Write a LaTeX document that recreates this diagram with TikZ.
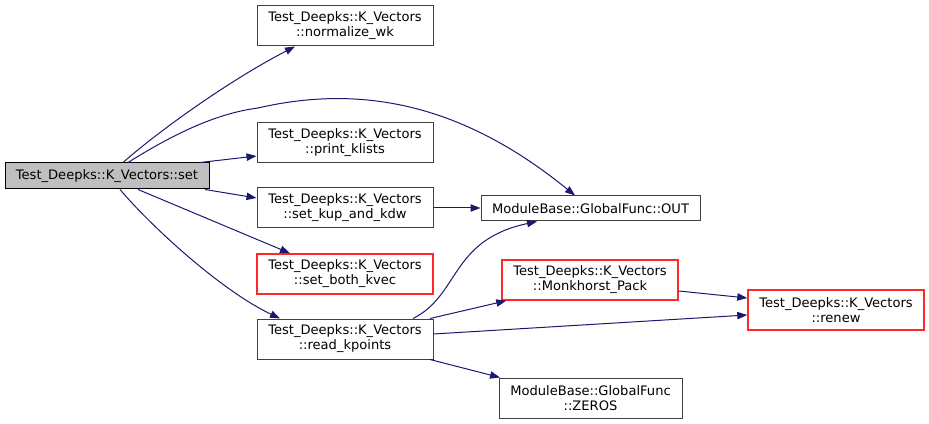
\documentclass[tikz,border=0pt]{standalone}
\usepackage{fontspec}
\setmainfont{DejaVu Sans}
\usepackage{tikz}
\usetikzlibrary{arrows.meta,calc}
\definecolor{edge_blue}{RGB}{25,25,112}
\definecolor{box_grey}{RGB}{64,64,64}
\definecolor{box_red}{RGB}{255,40,40}
\definecolor{cur_fill}{RGB}{191,191,191}
\tikzset{
  fn/.style={draw=box_grey, line width=0.75pt, fill=white, align=center, inner sep=0pt,
    minimum width=#1*0.75pt, minimum height=40*0.75pt},
  fn/.default=176,
  fnred/.style={fn=176, draw=box_red, line width=1.1pt},
  call/.style={edge_blue, line width=0.75pt, -{Triangle[length=7.5pt,width=5.5pt]}}
}

\begin{document}
\begin{tikzpicture}[x=0.75pt, y=-0.75pt, font=\fontsize{9.8}{11.3}\selectfont]
        \useasboundingbox (0,0) rectangle (929,424);
        \node[fn=204, minimum height=26*0.75pt, draw=black, fill=cur_fill] (set) at (107,176) {Test\_Deepks::K\_Vectors::set};
        \node[fn] (normwk) at (345,26) {Test\_Deepks::K\_Vectors\\::normalize\_wk};
        \node[fn] (printk) at (345,143) {Test\_Deepks::K\_Vectors\\::print\_klists};
        \node[fn] (kupkdw) at (345,208) {Test\_Deepks::K\_Vectors\\::set\_kup\_and\_kdw};
        \node[fnred] (bothkv) at (345,274) {Test\_Deepks::K\_Vectors\\::set\_both\_kvec};
        \node[fn] (readkp) at (345,339) {Test\_Deepks::K\_Vectors\\::read\_kpoints};
        \node[fn=219, minimum height=25*0.75pt] (gfout) at (590.5,208.5) {ModuleBase::GlobalFunc::OUT};
        \node[fnred] (mpack) at (590,280) {Test\_Deepks::K\_Vectors\\::Monkhorst\_Pack};
        \node[fnred] (renew) at (836,310) {Test\_Deepks::K\_Vectors\\::renew};
        \node[fn=183] (zeros) at (590.5,398) {ModuleBase::GlobalFunc\\::ZEROS};

        \draw[call] ($(set.north)+(16,0)$) .. controls (160,130) and (230,80) .. ($(normwk.south)+(-50,0)$);
        \draw[call] ($(set.north)+(21,0)$) .. controls (180,130) and (220,113) .. (258,108)
          .. controls (370,82) and (470,110) .. ($(gfout.north)+(-15.5,0)$);
        \draw[call] ($(set.north)+(93,0)$) -- ($(printk.west)+(0,13)$);
        \draw[call] ($(set.south)+(98,0)$) -- ($(kupkdw.west)+(0,-10)$);
        \draw[call] ($(set.south)+(31,0)$) -- ($(bothkv.north)+(-55,0)$);
        \draw[call] ($(set.south)+(13,0)$) .. controls (150,225) and (220,290) .. ($(readkp.north)+(-65,0)$);
        \draw[call] (kupkdw.east) -- ($(gfout.west)+(0,-0.5)$);
        \draw[call] ($(readkp.north)+(68,0)$) .. controls (460,295) and (450,240) .. ($(gfout.south)+(-53.5,0)$);
        \draw[call] ($(readkp.north)+(85,0)$) -- ($(mpack.south west)+(5,0)$);
        \draw[call] ($(readkp.east)+(0,-5)$) -- ($(renew.west)+(0,5)$);
        \draw[call] ($(readkp.south)+(85,0)$) -- ($(zeros.north west)+(1.5,0)$);
        \draw[call] ($(mpack.east)+(0,11)$) -- ($(renew.west)+(0,-12)$);
      \end{tikzpicture}
\end{document}
